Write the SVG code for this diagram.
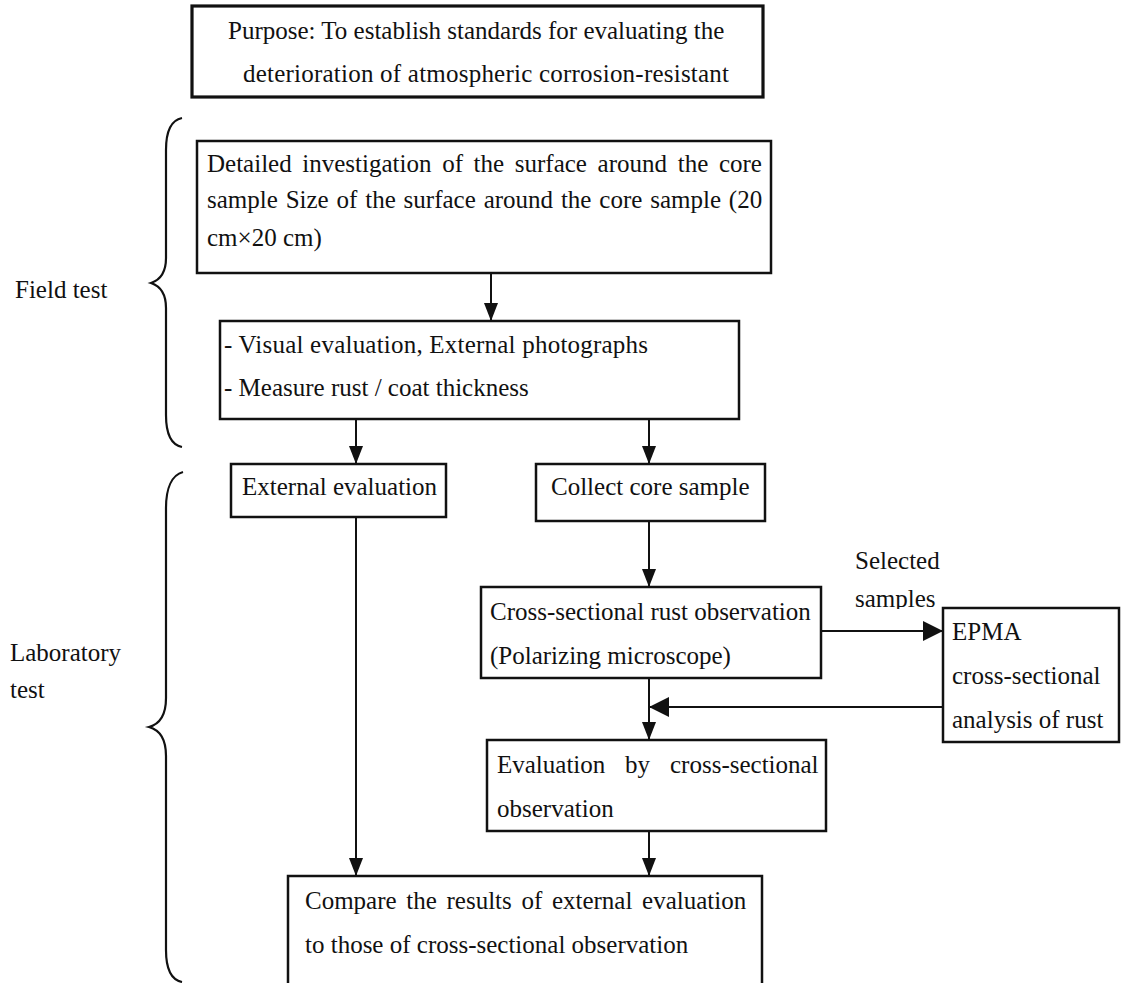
<svg xmlns="http://www.w3.org/2000/svg" width="1122" height="983" viewBox="0 0 1122 983">
<style>
text{font-family:"Liberation Serif","Times New Roman",serif;font-size:25px;fill:#111}
.box{fill:#fff;stroke:#111;stroke-width:2.5}
.thick{stroke-width:3.2}
.ln{fill:none;stroke:#111;stroke-width:2}
.br{fill:none;stroke:#111;stroke-width:2.2}
</style>
<defs>
<marker id="ah" markerUnits="userSpaceOnUse" markerWidth="18" markerHeight="14" refX="18" refY="7" orient="auto"><path d="M0,0 L18,7 L0,14 z" fill="#111"/></marker>
<marker id="ahb" markerUnits="userSpaceOnUse" markerWidth="20" markerHeight="20" refX="20" refY="10" orient="auto"><path d="M0,0 L20,10 L0,20 z" fill="#111"/></marker>
<clipPath id="clipS"><rect x="840" y="540" width="110" height="69"/></clipPath>
</defs>

<g id="braces">
<path class="br" d="M182,118 C172,120 166,130 166,150 L166,258 C166,273 160,280 151,283 C160,286 166,293 166,308 L166,415 C166,435 172,445 182,447"/>
<path class="br" d="M183,472 C172,475 166,488 166,508 L166,698 C166,715 160,724 149,727 C160,730 166,739 166,756 L166,950 C166,970 172,980 182,982"/>
<text x="15" y="298">Field test</text>
<text x="10" y="661">Laboratory</text>
<text x="10" y="698">test</text>
</g>

<g id="connectors">
<line class="ln" x1="491" y1="273" x2="491" y2="321" marker-end="url(#ah)"/>
<line class="ln" x1="356" y1="419" x2="356" y2="464" marker-end="url(#ah)"/>
<line class="ln" x1="649" y1="419" x2="649" y2="464" marker-end="url(#ah)"/>
<line class="ln" x1="356" y1="517" x2="356" y2="876" marker-end="url(#ah)"/>
<line class="ln" x1="649" y1="521" x2="649" y2="587" marker-end="url(#ah)"/>
<line class="ln" x1="821" y1="631" x2="943" y2="631" marker-end="url(#ahb)"/>
<line class="ln" x1="649" y1="677" x2="649" y2="740" marker-end="url(#ah)"/>
<line class="ln" x1="943" y1="707" x2="649" y2="707" marker-end="url(#ahb)"/>
<line class="ln" x1="649" y1="831" x2="649" y2="876" marker-end="url(#ah)"/>
<g clip-path="url(#clipS)">
<text x="855" y="569">Selected</text>
<text x="855" y="607">samples</text>
</g>
</g>

<g id="purpose">
<rect class="box thick" x="192" y="6" width="571" height="91"/>
<text x="228" y="39">Purpose: To establish standards for evaluating the</text>
<text x="243" y="82" textLength="486">deterioration of atmospheric corrosion-resistant</text>
</g>

<g id="detailed">
<rect class="box" x="197" y="141" width="574" height="132"/>
<text x="207" y="172" word-spacing="4.4">Detailed investigation of the surface around the core</text>
<text x="207" y="208" word-spacing="1.6">sample Size of the surface around the core sample (20</text>
<text x="207" y="246">cm×20 cm)</text>
</g>

<g id="visual">
<rect class="box" x="220" y="321" width="519" height="98"/>
<text x="224" y="353" textLength="424">- Visual evaluation, External photographs</text>
<text x="224" y="396">- Measure rust / coat thickness</text>
</g>

<g id="external">
<rect class="box" x="231" y="464" width="215" height="53"/>
<text x="242" y="495">External evaluation</text>
</g>

<g id="collect">
<rect class="box" x="536" y="464" width="229" height="57"/>
<text x="551" y="495">Collect core sample</text>
</g>

<g id="cross">
<rect class="box" x="481" y="587" width="340" height="91"/>
<text x="490" y="620">Cross-sectional rust observation</text>
<text x="490" y="664">(Polarizing microscope)</text>
</g>

<g id="epma">
<rect class="box" x="943" y="608" width="176" height="134"/>
<text x="952" y="640">EPMA</text>
<text x="952" y="684">cross-sectional</text>
<text x="952" y="728">analysis of rust</text>
</g>

<g id="evaluation">
<rect class="box" x="487" y="740" width="339" height="91"/>
<text x="497" y="773">Evaluation</text>
<text x="625" y="773">by</text>
<text x="670" y="773">cross-sectional</text>
<text x="497" y="817">observation</text>
</g>

<g id="compare">
<rect class="box" x="288" y="876" width="474" height="120"/>
<text x="305" y="909" word-spacing="3.4">Compare the results of external evaluation</text>
<text x="305" y="953">to those of cross-sectional observation</text>
</g>
</svg>
